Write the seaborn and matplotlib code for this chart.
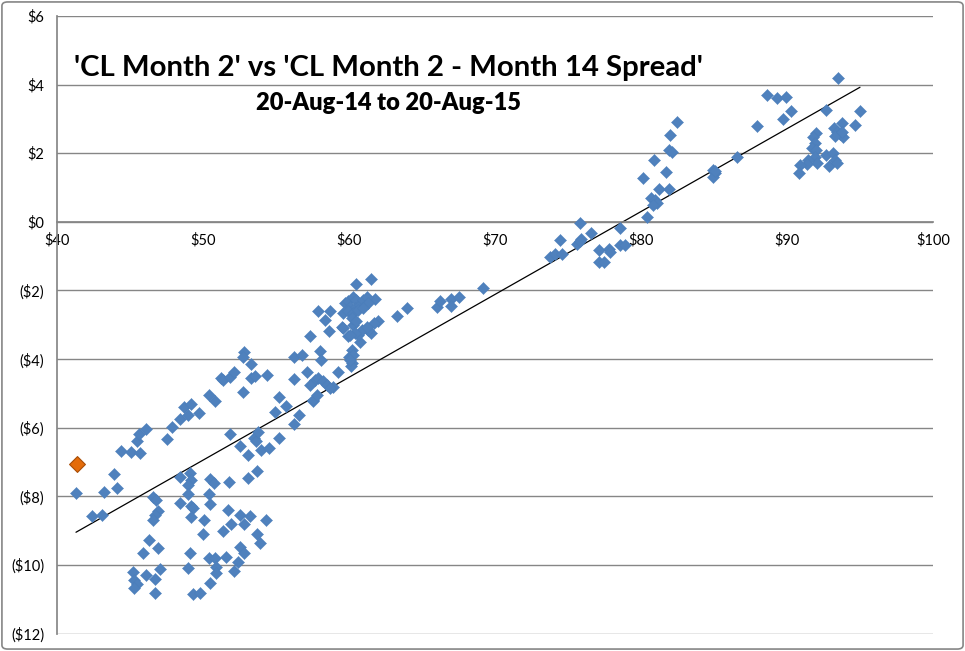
import numpy as np
import pandas as pd
import matplotlib
matplotlib.use("Agg")
import matplotlib.pyplot as plt
import seaborn as sns
from matplotlib.patches import FancyBboxPatch
from matplotlib.ticker import FuncFormatter, MultipleLocator

# ======== DATA ===========================
# x = CL Month 2 price ($), y = Month 2 - Month 14 spread ($)
price = [
    41.3, 42.4, 43.06, 43.2, 43.9, 44.1, 44.4, 45.1, 45.7, 45.5, 45.6, 46.1,
    47.55, 47.9, 48.4, 48.7, 48.95, 49.2, 49.7, 50.8, 48.4, 49.1, 49.2, 49.0,
    49.0, 46.6, 46.8, 46.9, 46.7, 46.55, 48.4, 49.2, 49.3, 49.2, 50.1, 50.0,
    50.4, 50.5, 50.5, 50.75, 46.3, 46.9, 45.9, 49.1, 47.05, 46.1, 46.7, 45.2,
    45.3, 45.5, 45.3, 46.7, 48.95, 49.3, 49.8, 50.5, 50.4, 50.8, 50.9, 50.9,
    51.85, 52.5, 53.06, 53.5, 53.6, 53.8, 54.0, 54.5, 55.2, 54.9, 55.7, 56.6,
    56.25, 57.5, 51.8, 53.1, 53.7, 51.7, 52.5, 53.2, 52.8, 51.9, 54.3, 51.4,
    53.7, 53.9, 52.5, 52.8, 52.4, 51.6, 52.1,
    50.4, 51.2, 51.35, 51.85, 52.1, 52.76, 52.8, 52.76, 53.27, 53.27, 53.56,
    54.36, 55.2, 56.23, 56.2, 56.8, 57.1, 57.33, 58.0, 58.1, 57.67, 57.9, 58.2,
    58.5, 57.33, 57.5, 57.8,
    60.48, 61.5, 63.27, 57.9, 58.7, 58.36, 58.6, 59.5, 60.25, 60.2, 60.0, 60.2,
    60.15, 59.27, 58.9, 58.7, 64.0, 66.0, 66.2, 66.97, 67.5, 67.0, 69.16, 61.8,
    62.0, 61.7, 61.5, 61.3, 60.75, 60.6, 60.3, 60.1, 59.6, 59.95, 59.7, 59.57,
    59.95, 60.3, 60.5, 60.07, 60.4, 60.75, 60.98, 61.2, 61.3, 59.95, 60.3, 60.6,
    60.98, 60.2, 60.5, 60.9, 60.4, 60.07, 61.2,
    82.49, 81.99, 81.94, 82.1, 80.9, 81.7, 80.16, 81.2, 81.95, 80.7, 80.96,
    81.07, 80.8, 80.4, 87.97, 86.6, 84.95, 85.07, 84.9, 85.1, 75.8, 76.58,
    78.56, 74.45, 75.6, 75.9, 75.8, 73.77, 74.1, 74.6, 77.14, 77.8, 77.9,
    78.56, 78.9, 77.14, 77.47,
    93.5, 88.65, 89.3, 89.9, 90.27, 89.75, 92.65, 95.0, 94.66, 93.8, 93.2,
    93.4, 93.6, 93.86, 93.3, 93.75, 92.0, 91.8, 91.9, 91.7, 92.0, 91.9, 92.07,
    91.46, 91.4, 90.9, 90.84, 92.7, 93.17, 93.3, 92.9, 93.4,
]
spread = [
    -7.91, -8.57, -8.54, -7.87, -7.35, -7.75, -6.67, -6.70, -6.74, -6.40, -6.19, -6.04,
    -6.34, -5.99, -5.75, -5.40, -5.63, -5.31, -5.56, -5.22, -7.43, -7.33, -7.52, -7.67,
    -7.93, -8.01, -8.10, -8.42, -8.54, -8.69, -8.20, -8.28, -8.35, -8.61, -8.69, -9.10,
    -7.94, -8.22, -7.49, -7.62, -9.27, -9.51, -9.64, -9.66, -10.13, -10.29, -10.42, -10.20,
    -10.44, -10.54, -10.66, -10.83, -10.10, -10.85, -10.81, -10.52, -9.81, -9.81, -10.05, -10.24,
    -6.18, -6.53, -6.79, -6.31, -6.40, -6.11, -6.65, -6.60, -6.29, -5.53, -5.36, -5.63,
    -5.90, -5.22, -7.57, -7.47, -7.25, -8.40, -8.54, -8.57, -8.81, -8.81, -8.69, -9.01,
    -9.10, -9.37, -9.47, -9.66, -9.90, -9.78, -10.17,
    -5.04, -4.56, -4.60, -4.53, -4.39, -4.95, -3.78, -3.95, -4.15, -4.56, -4.49,
    -4.46, -5.11, -4.59, -3.95, -3.88, -4.39, -3.32, -3.75, -4.02, -4.61, -4.56, -4.63,
    -4.75, -4.75, -5.19, -5.04,
    -1.81, -1.67, -2.74, -2.61, -2.61, -2.86, -3.17, -3.05, -3.00, -3.73, -3.95, -4.10,
    -4.20, -4.38, -4.80, -4.85, -2.52, -2.47, -2.32, -2.25, -2.18, -2.44, -1.93, -2.25,
    -2.90, -2.96, -3.25, -3.15, -3.49, -3.29, -3.88, -4.02, -3.10, -3.34, -2.37, -2.66,
    -2.32, -2.18, -2.27, -2.47, -2.52, -2.42, -2.27, -2.18, -2.37, -2.61, -2.66, -2.57,
    -2.52, -2.81, -2.90, -3.15, -3.23, -3.29, -3.05,
    2.92, 2.54, 2.10, 2.05, 1.79, 1.44, 1.29, 0.95, 0.95, 0.69, 0.64,
    0.55, 0.50, 0.15, 2.80, 1.90, 1.52, 1.42, 1.30, 1.49, -0.02, -0.33,
    -0.18, -0.52, -0.64, -0.50, -0.57, -1.01, -0.93, -0.93, -0.82, -0.80, -0.87,
    -0.67, -0.67, -1.16, -1.18,
    4.19, 3.70, 3.61, 3.65, 3.22, 3.00, 3.27, 3.22, 2.83, 2.88, 2.73,
    2.63, 2.57, 2.47, 2.51, 2.63, 2.59, 2.47, 2.29, 2.15, 2.10, 1.90, 1.73,
    1.81, 1.69, 1.66, 1.42, 1.95, 2.00, 1.81, 1.63, 1.71,
]
# latest observation (highlighted)
last_price = [41.35]
last_spread = [-7.06]

title = "'CL Month 2' vs 'CL Month 2 - Month 14 Spread'"
subtitle = "20-Aug-14 to 20-Aug-15"

df = pd.DataFrame({"price": price + last_price, "spread": spread + last_spread})
df_last = pd.DataFrame({"price": last_price, "spread": last_spread})

# ======== PLOT =========
sns.set_theme(style="white")
plt.rcParams["font.family"] = ["Lato", "DejaVu Sans"]

fig = plt.figure(figsize=(9.65, 6.51), dpi=100)
ax = fig.add_axes([57 / 965, 1 - 633.6 / 651, (933 - 57) / 965, (633.6 - 16) / 651])

grid_c = "#868686"
sns.scatterplot(data=df.iloc[:-1], x="price", y="spread", marker="D", s=38,
                color="#4F81BD", edgecolor="#4A7EBB", linewidth=0.3, ax=ax, zorder=3)
sns.scatterplot(data=df_last, x="price", y="spread", marker="D", s=65,
                color="#E46C0A", edgecolor="#A84F08", linewidth=0.8, ax=ax, zorder=4)
sns.regplot(data=df, x="price", y="spread", scatter=False, ci=None, truncate=True,
            line_kws={"color": "black", "linewidth": 0.9}, ax=ax)

ax.set_xlim(40, 100)
ax.set_ylim(-12, 6)
ax.xaxis.set_major_locator(MultipleLocator(10))
ax.yaxis.set_major_locator(MultipleLocator(2))
ax.xaxis.set_major_formatter(FuncFormatter(lambda v, p: f"${v:.0f}"))
ax.yaxis.set_major_formatter(FuncFormatter(
    lambda v, p: f"${v:.0f}" if v >= 0 else f"(${-v:.0f})"))

ax.yaxis.grid(True, color=grid_c, linewidth=1)
ax.xaxis.grid(False)
ax.set_axisbelow(True)

for side in ["top", "right"]:
    ax.spines[side].set_visible(False)
ax.spines["left"].set_color(grid_c)
ax.spines["bottom"].set_color(grid_c)
ax.spines["bottom"].set_position(("data", 0))
ax.tick_params(axis="both", direction="out", length=5, width=1, color=grid_c,
               labelsize=10.5, labelcolor="black", pad=3)
ax.tick_params(axis="y", pad=4)
ax.set_xlabel("")
ax.set_ylabel("")

fig.text(74 / 965, 1 - 76 / 651, title, fontsize=21.2, fontweight="bold",
         color="black", ha="left", va="baseline")
fig.text(256 / 965, 1 - 110.5 / 651, subtitle, fontsize=17, fontweight="heavy",
         color="black", ha="left", va="baseline")

# chart area border
fig.patches.append(FancyBboxPatch((0.002, 0.003), 0.996, 0.994,
                                  boxstyle="round,pad=0,rounding_size=0.006",
                                  transform=fig.transFigure, fill=False,
                                  edgecolor="#868686", linewidth=1.2))

plt.savefig("out.png", dpi=100)
plt.close()
